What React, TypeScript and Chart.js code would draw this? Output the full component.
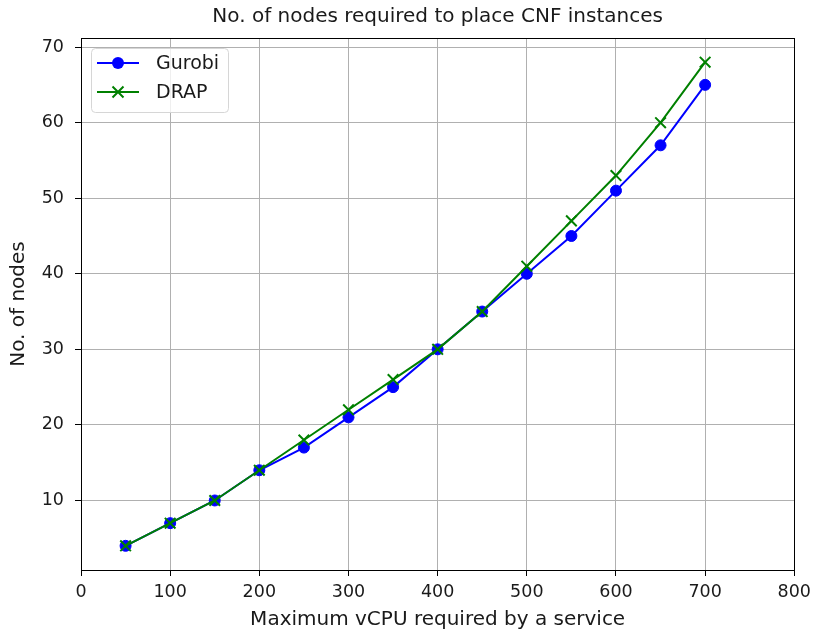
import React, { useEffect, useRef } from "react";
import { Chart, registerables } from "chart.js";

Chart.register(...registerables);

const vcpu = [50, 100, 150, 200, 250, 300, 350, 400, 450, 500, 550, 600, 650, 700];
const gurobi = [4, 7, 10, 14, 17, 21, 25, 30, 35, 40, 45, 51, 57, 65];
const drap = [4, 7, 10, 14, 18, 22, 26, 30, 35, 41, 47, 53, 60, 68];
const seriesNames = ["Gurobi", "DRAP"];
const titleText = "No. of nodes required to place CNF instances";
const xLabel = "Maximum vCPU required by a service";
const yLabel = "No. of nodes";

const FONT = "'DejaVu Sans', sans-serif";
const FS_TITLE = 20;
const FS_LABEL = 20;
const FS_TICK = 17.5;
const FS_LEGEND = 19;
const TEXT = "#1a1a1a";

const framePlugin = {
  id: "frame",
  afterDatasetsDraw(chart: any) {
    const { ctx, chartArea } = chart;
    ctx.save();
    ctx.strokeStyle = "#000";
    ctx.lineWidth = 1;
    ctx.strokeRect(
      Math.round(chartArea.left) + 0.5,
      Math.round(chartArea.top) + 0.5,
      Math.round(chartArea.right - chartArea.left),
      Math.round(chartArea.bottom - chartArea.top)
    );
    ctx.restore();
  },
  afterDraw(chart: any) {
    const { ctx } = chart;
    ctx.save();
    const bx = 91.5, by = 48.5, bw = 137, bh = 64, r = 4;
    ctx.beginPath();
    ctx.moveTo(bx + r, by);
    ctx.lineTo(bx + bw - r, by);
    ctx.arcTo(bx + bw, by, bx + bw, by + r, r);
    ctx.lineTo(bx + bw, by + bh - r);
    ctx.arcTo(bx + bw, by + bh, bx + bw - r, by + bh, r);
    ctx.lineTo(bx + r, by + bh);
    ctx.arcTo(bx, by + bh, bx, by + bh - r, r);
    ctx.lineTo(bx, by + r);
    ctx.arcTo(bx, by, bx + r, by, r);
    ctx.closePath();
    ctx.fillStyle = "rgba(255,255,255,0.8)";
    ctx.fill();
    ctx.strokeStyle = "#d6d6d6";
    ctx.lineWidth = 1;
    ctx.stroke();

    const ds = chart.data.datasets;
    const rows = [63, 92];
    ds.forEach((d: any, i: number) => {
      const y = rows[i];
      ctx.strokeStyle = d.borderColor;
      ctx.lineWidth = 2;
      ctx.beginPath();
      ctx.moveTo(97, y);
      ctx.lineTo(139, y);
      ctx.stroke();
      if (d.pointStyle === "circle") {
        ctx.fillStyle = d.borderColor;
        ctx.beginPath();
        ctx.arc(118, y, 6, 0, Math.PI * 2);
        ctx.fill();
      } else {
        const h = 5.5;
        ctx.beginPath();
        ctx.moveTo(118 - h, y - h);
        ctx.lineTo(118 + h, y + h);
        ctx.moveTo(118 + h, y - h);
        ctx.lineTo(118 - h, y + h);
        ctx.stroke();
      }
      ctx.fillStyle = TEXT;
      ctx.font = `${FS_LEGEND}px ${FONT}`;
      ctx.textBaseline = "middle";
      ctx.textAlign = "left";
      ctx.fillText(d.label, 156, y + 1);
    });
    ctx.restore();
  },
};

export default function App() {
  const ref = useRef<HTMLCanvasElement>(null);
  useEffect(() => {
    document.body.style.margin = "0";
    const chart = new Chart(ref.current!, {
      type: "line",
      data: {
        labels: vcpu,
        datasets: [
          {
            label: seriesNames[0],
            data: vcpu.map((x, i) => ({ x, y: gurobi[i] })),
            borderColor: "#0000ff",
            backgroundColor: "#0000ff",
            borderWidth: 2,
            pointStyle: "circle",
            pointRadius: 5.5,
            pointBorderWidth: 1,
            pointBackgroundColor: "#0000ff",
            pointBorderColor: "#0000ff",
            tension: 0,
            order: 1,
          },
          {
            label: seriesNames[1],
            data: vcpu.map((x, i) => ({ x, y: drap[i] })),
            borderColor: "#008000",
            backgroundColor: "#008000",
            borderWidth: 2,
            pointStyle: "crossRot",
            pointRadius: 7.5,
            pointBorderWidth: 2,
            pointBorderColor: "#008000",
            tension: 0,
            order: 0,
          },
        ],
      },
      options: {
        animation: false,
        responsive: false,
        devicePixelRatio: 1,
        layout: { padding: { left: 0, right: 21, top: 0, bottom: 0 } },
        plugins: {
          legend: { display: false },
          tooltip: { enabled: false },
          title: {
            display: true,
            fullSize: false,
            text: titleText,
            color: TEXT,
            font: { family: FONT, size: FS_TITLE, weight: "normal" },
            padding: { top: 5, bottom: 9 },
          },
        },
        scales: {
          x: {
            type: "linear",
            min: 0,
            max: 800,
            afterFit(s: any) {
              s.height = 67;
            },
            ticks: {
              stepSize: 100,
              color: TEXT,
              font: { family: FONT, size: FS_TICK },
              padding: 6,
              maxRotation: 0,
            },
            grid: { color: "#b0b0b0", lineWidth: 1, tickLength: 6, tickColor: "#000" },
            border: { display: true, color: "#000", width: 1 },
            title: {
              display: true,
              text: xLabel,
              color: TEXT,
              font: { family: FONT, size: FS_LABEL },
              padding: { top: 0, bottom: 5 },
            },
          },
          y: {
            type: "linear",
            min: 0.8,
            max: 71.2,
            afterFit(s: any) {
              s.width = 81;
            },
            afterBuildTicks(s: any) {
              s.ticks = s.ticks.filter((t: any) => t.value % 10 === 0 && t.value >= 10);
            },
            ticks: {
              stepSize: 10,
              includeBounds: false,
              color: TEXT,
              font: { family: FONT, size: FS_TICK },
              padding: 11,
            } as any,
            grid: { color: "#b0b0b0", lineWidth: 1, tickLength: 6, tickColor: "#000" },
            border: { display: true, color: "#000", width: 1 },
            title: {
              display: true,
              text: yLabel,
              color: TEXT,
              font: { family: FONT, size: FS_LABEL },
              padding: { top: 7, bottom: 0 },
            },
          },
        },
      },
      plugins: [framePlugin],
    });
    return () => chart.destroy();
  }, []);
  return (
    <div style={{ position: "absolute", left: 0, top: 0, width: 817, height: 637 }}>
      <canvas ref={ref} width={817} height={637} />
    </div>
  );
}
